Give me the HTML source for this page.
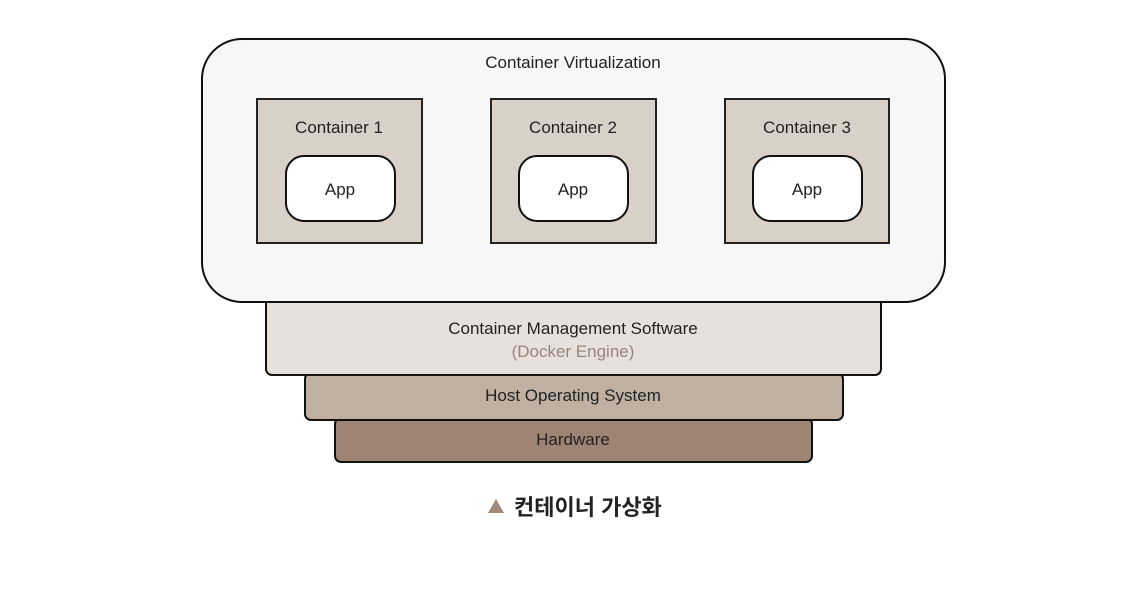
<!DOCTYPE html>
<html><head><meta charset="utf-8"><style>
html,body{margin:0;padding:0;background:#fff;}
</style></head><body>
<svg width="1136" height="592" viewBox="0 0 1136 592" xmlns="http://www.w3.org/2000/svg" font-family="Liberation Sans, sans-serif">
<rect x="0" y="0" width="1136" height="592" fill="#fff"/>
<rect x="335" y="418" width="477" height="44" rx="6" fill="#9e8475" stroke="#111" stroke-width="2"/>
<rect x="305" y="373" width="538" height="47" rx="6" fill="#bfb0a2" stroke="#111" stroke-width="2"/>
<rect x="266" y="296" width="615" height="79" rx="6" fill="#e6e1dc" stroke="#111" stroke-width="2"/>
<rect x="202" y="39" width="743" height="263" rx="40" fill="#f7f7f7" stroke="#111" stroke-width="2"/>
<text x="573" y="68" font-size="17" text-anchor="middle" fill="#222">Container Virtualization</text>
<g>
<rect x="257" y="99" width="165" height="144" fill="#d9d0c8" stroke="#222" stroke-width="2"/>
<text x="339" y="133" font-size="17" text-anchor="middle" fill="#222">Container 1</text>
<rect x="286" y="156" width="109" height="65" rx="18" fill="#fff" stroke="#111" stroke-width="2"/>
<text x="340" y="195" font-size="17" text-anchor="middle" fill="#222">App</text>
</g>
<g>
<rect x="491" y="99" width="165" height="144" fill="#d9d0c8" stroke="#222" stroke-width="2"/>
<text x="573" y="133" font-size="17" text-anchor="middle" fill="#222">Container 2</text>
<rect x="519" y="156" width="109" height="65" rx="18" fill="#fff" stroke="#111" stroke-width="2"/>
<text x="573" y="195" font-size="17" text-anchor="middle" fill="#222">App</text>
</g>
<g>
<rect x="725" y="99" width="164" height="144" fill="#d9d0c8" stroke="#222" stroke-width="2"/>
<text x="807" y="133" font-size="17" text-anchor="middle" fill="#222">Container 3</text>
<rect x="753" y="156" width="109" height="65" rx="18" fill="#fff" stroke="#111" stroke-width="2"/>
<text x="807" y="195" font-size="17" text-anchor="middle" fill="#222">App</text>
</g>
<text x="573" y="334" font-size="17" text-anchor="middle" fill="#222">Container Management Software</text>
<text x="573" y="357" font-size="17" text-anchor="middle" fill="#9a8478">(Docker Engine)</text>
<text x="573" y="401" font-size="17" text-anchor="middle" fill="#222">Host Operating System</text>
<text x="573" y="445" font-size="17" text-anchor="middle" fill="#222">Hardware</text>
<polygon points="488,513 496,499 504,513" fill="#a0897c"/>
<text x="514" y="515" font-size="22" font-weight="bold" fill="#222" font-family="Liberation Sans, Noto Sans CJK KR, sans-serif">컨테이너 가상화</text>
</svg>
</body></html>
